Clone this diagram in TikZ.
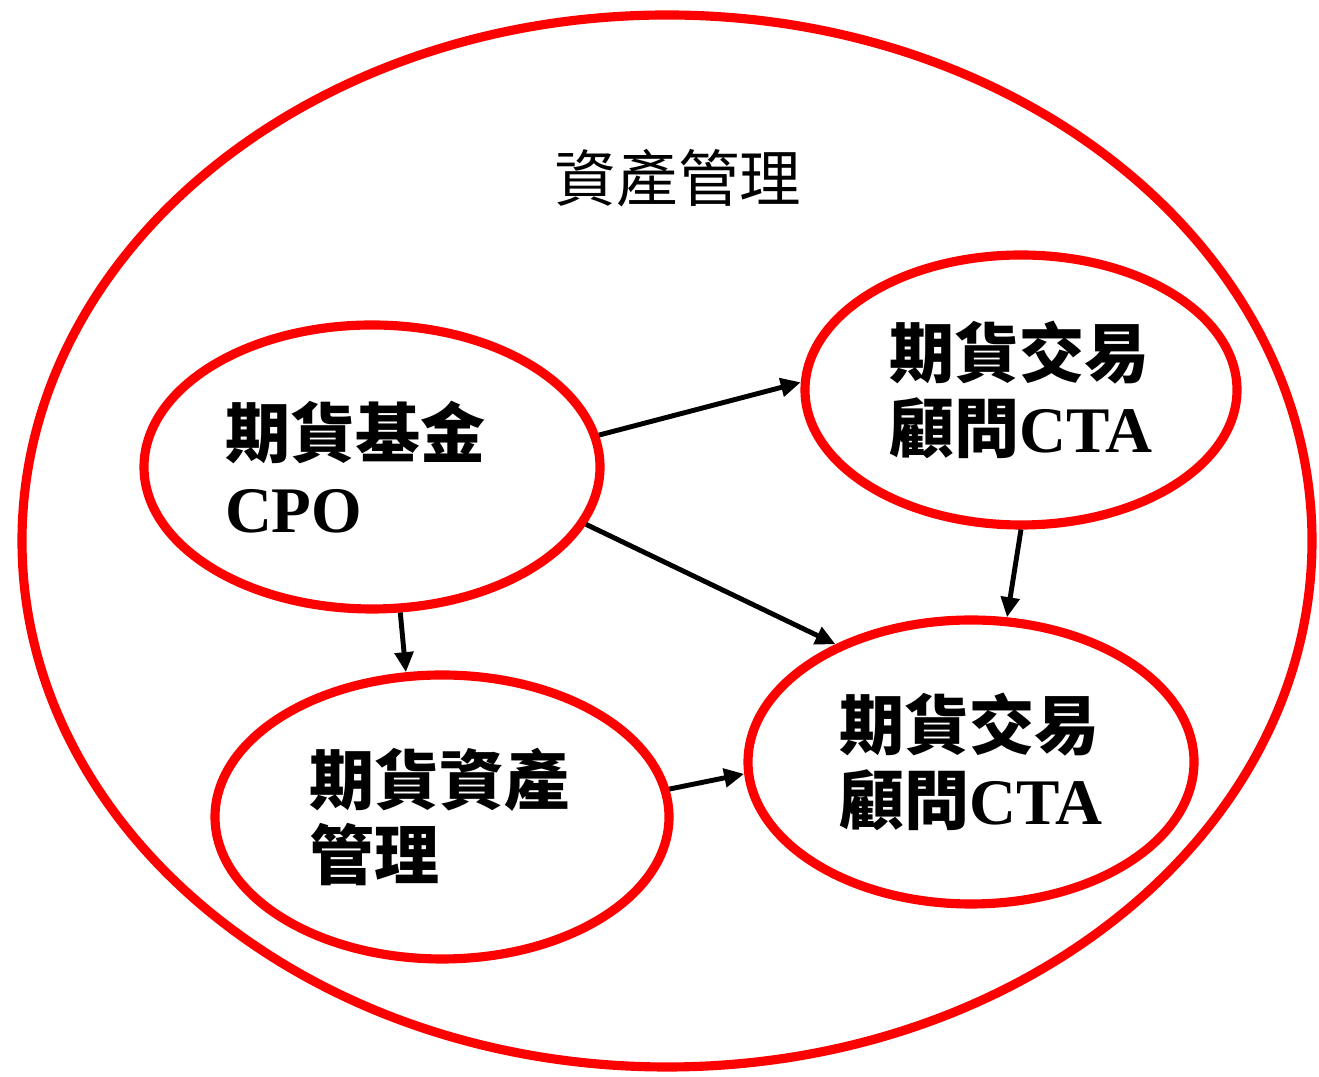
\documentclass[tikz,border=0pt]{standalone}
\usepackage{fontspec}
\setmainfont{Liberation Serif}
\newfontfamily\cjk{Noto Sans CJK TC}
\usetikzlibrary{shapes.geometric,arrows.meta}
\begin{document}
\begin{tikzpicture}[
  bubble/.style={ellipse,draw=red,line width=2.6pt,inner sep=0pt,align=left,font=\fontsize{18.5pt}{21.5pt}\selectfont\bfseries},
  link/.style={line width=1.4pt,-{Triangle[length=5.7pt,width=5.2pt]}}
]
\useasboundingbox (0,0) rectangle (13.19,10.77);
\node[ellipse,draw=red,line width=2.6pt,minimum width=12.9cm,minimum height=10.52cm] (outer) at (6.67,5.36) {};
\node[font=\fontsize{17.5pt}{21pt}\selectfont] (title) at (6.78,8.99) {\cjk 資產管理};
\node[bubble,minimum width=4.56cm,minimum height=2.84cm,text width=2.7cm,xshift=0pt] (cpo) at (3.72,6.10) {\hspace*{-0.12cm}{\cjk 期貨基金}\\\hspace*{-0.12cm}CPO};
\node[bubble,minimum width=4.32cm,minimum height=2.70cm] (ctat) at (10.21,6.87) {{\cjk 期貨交易}\\{\cjk 顧問}CTA};
\node[bubble,minimum width=4.54cm,minimum height=2.84cm,text width=2.6cm] (asset) at (4.42,2.60) {\hspace*{-0.03cm}{\cjk 期貨資產}\\\hspace*{-0.03cm}{\cjk 管理}};
\node[bubble,minimum width=4.46cm,minimum height=2.84cm] (ctab) at (9.71,3.15) {{\cjk 期貨交易}\\{\cjk 顧問}CTA};
\draw[link] (cpo.8) -- (ctat.178);
\draw[link] (cpo.-15) -- (ctab.139);
\draw[link] (ctat.270) -- (ctab.76);
\draw[link] (cpo.281) -- (asset.104);
\draw[link] (asset.7) -- (ctab.183);
\end{tikzpicture}
\end{document}
